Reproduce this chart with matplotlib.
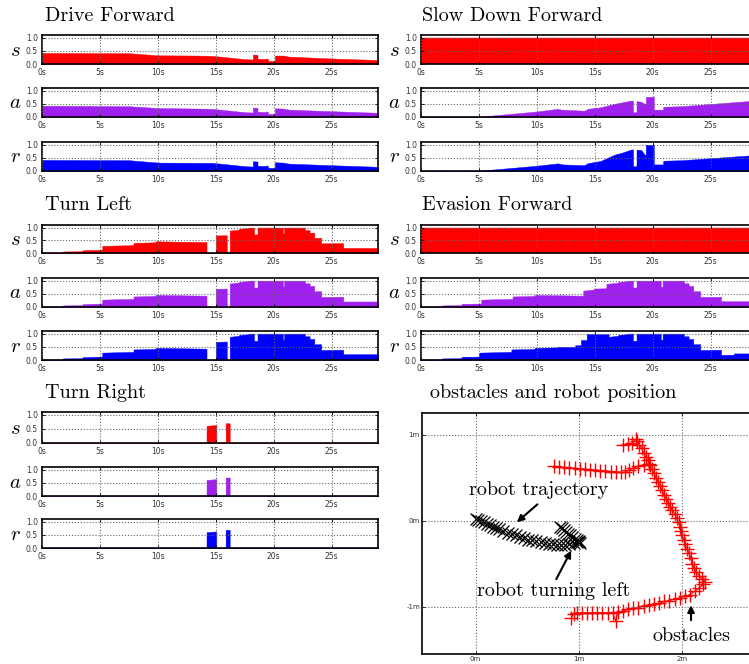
import numpy as np
import matplotlib.pyplot as plt

plt.rcParams['mathtext.fontset'] = 'cm'

# ---- data (time in s, activation values) ----
# Drive Forward
df_s_t = [0, 7.5, 10, 13.5, 14.7, 17.6, 18.2, 18.2, 18.6, 18.6, 19.3, 19.3, 19.5, 19.5, 20.0, 20.1, 20.1, 20.8, 21.3, 25, 29]
df_s_v = [0.42, 0.41, 0.33, 0.32, 0.31, 0.18, 0.17, 0.36, 0.35, 0.20, 0.19, 0.21, 0.20, 0.12, 0.12, 0.12, 0.32, 0.32, 0.28, 0.21, 0.15]
df_a_t = [0, 7.5, 10, 13.5, 14.7, 17.6, 18.2, 18.2, 18.6, 18.6, 19.3, 19.3, 19.5, 19.5, 20.0, 20.1, 20.1, 20.8, 21.3, 25, 29]
df_a_v = [0.43, 0.41, 0.34, 0.32, 0.31, 0.18, 0.17, 0.36, 0.35, 0.20, 0.19, 0.21, 0.20, 0.12, 0.12, 0.12, 0.33, 0.32, 0.28, 0.22, 0.16]
df_r_t = [0, 7.5, 10, 13.5, 14.7, 17.6, 18.2, 18.2, 18.6, 18.6, 19.3, 19.3, 19.5, 19.5, 20.0, 20.1, 20.1, 20.8, 21.3, 25, 29]
df_r_v = [0.42, 0.41, 0.32, 0.31, 0.31, 0.18, 0.17, 0.37, 0.36, 0.20, 0.19, 0.21, 0.20, 0.12, 0.12, 0.12, 0.33, 0.32, 0.28, 0.22, 0.16]

# Slow Down Forward
sd_s_t = [0, 29]
sd_s_v = [1.0, 1.0]
sd_a_t = [0, 5, 10, 11.8, 12.1, 14.1, 14.4, 15.5, 16.7, 18.1, 18.3, 18.3, 18.6, 18.6, 19.0, 19.3, 19.4, 19.4, 20.1, 20.1, 20.9, 20.9, 22.5, 29]
sd_a_v = [0.005, 0.01, 0.21, 0.31, 0.28, 0.24, 0.31, 0.37, 0.50, 0.62, 0.62, 0.18, 0.18, 0.60, 0.58, 0.50, 0.50, 0.76, 0.77, 0.28, 0.28, 0.39, 0.41, 0.63]
sd_r_t = [0, 5, 10, 11.8, 12.2, 14.1, 14.4, 15.5, 16.7, 17.3, 18.1, 18.3, 18.3, 18.6, 18.6, 19.0, 19.3, 19.4, 19.4, 20.1, 20.1, 20.9, 20.9, 22.5, 29]
sd_r_v = [0.005, 0.01, 0.20, 0.29, 0.25, 0.22, 0.30, 0.38, 0.62, 0.69, 0.81, 0.82, 0.18, 0.18, 0.81, 0.80, 0.62, 0.62, 1.0, 0.99, 0.25, 0.25, 0.39, 0.41, 0.61]

# Turn Left
tl_t = [0, 1.8, 1.8, 3.5, 3.5, 5.2, 5.2, 7.9, 7.9, 9.8, 9.8, 14.2, 14.2, 15.0, 15.0, 15.95, 15.95, 16.2, 16.2, 17.0,
        17.0, 17.8, 17.8, 18.3, 18.3, 18.6, 18.6, 20.8, 20.8, 20.9, 20.9, 22.7, 22.7, 23.1, 23.1, 23.5, 23.5, 24.1,
        24.1, 26.0, 26.0, 29]
tl_s_v = [0.02, 0.02, 0.06, 0.07, 0.11, 0.13, 0.28, 0.31, 0.40, 0.42, 0.46, 0.43, 0, 0, 0.69, 0.70, 0, 0, 0.88, 0.92,
          0.95, 0.98, 1.0, 1.0, 0.73, 0.73, 1.0, 1.0, 0.78, 0.78, 1.0, 1.0, 0.9, 0.9, 0.8, 0.8, 0.6, 0.6,
          0.38, 0.39, 0.2, 0.2]
tl_a_v = [0.02, 0.02, 0.06, 0.07, 0.11, 0.13, 0.28, 0.31, 0.40, 0.42, 0.46, 0.43, 0, 0, 0.69, 0.70, 0, 0, 0.89, 0.93,
          0.95, 0.99, 1.0, 1.0, 0.74, 0.74, 1.0, 1.0, 0.78, 0.78, 1.0, 1.0, 0.9, 0.9, 0.8, 0.8, 0.6, 0.6,
          0.38, 0.39, 0.21, 0.21]
tl_r_v = [0.02, 0.02, 0.06, 0.07, 0.11, 0.13, 0.28, 0.31, 0.40, 0.42, 0.46, 0.43, 0, 0, 0.69, 0.70, 0, 0, 0.88, 0.92,
          0.95, 0.98, 1.0, 1.0, 0.73, 0.73, 1.0, 1.0, 0.77, 0.77, 1.0, 1.0, 0.9, 0.9, 0.8, 0.8, 0.6, 0.6,
          0.38, 0.39, 0.22, 0.22]

# Evasion Forward
ev_s_t = [0, 29]
ev_s_v = [1.0, 1.0]
ev_a_t = [0, 1.8, 1.8, 3.5, 3.5, 5.2, 5.2, 7.9, 7.9, 9.8, 9.8, 14.0, 14.0, 14.9, 14.9, 16.0, 16.0, 17.0, 17.0, 17.8,
          17.8, 18.3, 18.3, 18.6, 18.6, 20.7, 20.7, 20.85, 20.85, 22.7, 22.7, 23.1, 23.1, 23.5, 23.5, 24.1, 24.1,
          25.9, 25.9, 29]
ev_a_v = [0.02, 0.02, 0.06, 0.07, 0.12, 0.13, 0.28, 0.31, 0.40, 0.42, 0.46, 0.43, 0.62, 0.66, 0.70, 0.71, 0.88, 0.92,
          0.95, 0.98, 1.0, 1.0, 0.74, 0.74, 1.0, 1.0, 0.77, 0.77, 1.0, 1.0, 0.9, 0.9, 0.8, 0.8, 0.6, 0.6, 0.38,
          0.39, 0.22, 0.22]
ev_r_t = [0, 1.8, 1.8, 3.5, 3.5, 5.0, 5.0, 7.8, 7.8, 9.8, 9.8, 11.8, 11.8, 13.3, 13.3, 13.8, 13.8, 14.3, 14.3, 16.2,
          16.2, 17.0, 17.0, 17.8, 17.8, 18.3, 18.3, 18.6, 18.6, 20.7, 20.7, 20.85, 20.85, 22.7, 22.7, 23.1, 23.1,
          23.5, 23.5, 24.1, 24.1, 25.9, 25.9, 27.0, 27.0, 29]
ev_r_v = [0.02, 0.02, 0.06, 0.07, 0.12, 0.13, 0.28, 0.31, 0.40, 0.42, 0.46, 0.48, 0.50, 0.50, 0.56, 0.56, 0.76, 0.76,
          0.99, 0.98, 0.88, 0.92, 0.95, 0.98, 1.0, 1.0, 0.73, 0.73, 1.0, 1.0, 0.77, 0.77, 1.0, 1.0, 0.9, 0.9,
          0.8, 0.8, 0.6, 0.6, 0.38, 0.39, 0.2, 0.2, 0.25, 0.25]

# Turn Right
tr_t = [0, 14.2, 14.2, 15.05, 15.05, 15.85, 15.85, 16.2, 16.2, 29]
tr_s_v = [0, 0, 0.61, 0.64, 0, 0, 0.70, 0.70, 0, 0]
tr_a_v = [0, 0, 0.61, 0.64, 0, 0, 0.70, 0.70, 0, 0]
tr_r_v = [0, 0, 0.60, 0.63, 0, 0, 0.69, 0.69, 0, 0]

# robot trajectory (m)
traj_x = [0.0, 0.02, 0.05, 0.08, 0.11, 0.14, 0.17, 0.20, 0.23, 0.27, 0.31, 0.35, 0.39, 0.43, 0.47, 0.51, 0.55,
          0.59, 0.63, 0.67, 0.71, 0.75, 0.79, 0.83, 0.87, 0.91, 0.95, 0.98, 1.00,
          0.82, 0.84, 0.86, 0.88, 0.90, 0.92, 0.94, 0.96, 0.98, 1.00, 1.01]
traj_y = [0.02, 0.01, 0.0, -0.02, -0.04, -0.05, -0.07, -0.09, -0.10, -0.12, -0.14, -0.16, -0.17, -0.19, -0.20,
          -0.22, -0.23, -0.24, -0.25, -0.26, -0.27, -0.27, -0.28, -0.28, -0.28, -0.27, -0.26, -0.25, -0.24,
          -0.07, -0.09, -0.11, -0.13, -0.15, -0.17, -0.19, -0.21, -0.23, -0.25, -0.26]

# obstacles (m), three scan pieces
obs1_x = [0.76, 0.81, 0.86, 0.91, 0.96, 1.01, 1.06, 1.11, 1.16, 1.21, 1.26, 1.31, 1.36, 1.41, 1.45, 1.49, 1.53,
          1.58, 1.63, 1.68]
obs1_y = [0.63, 0.62, 0.62, 0.61, 0.61, 0.60, 0.60, 0.59, 0.59, 0.58, 0.58, 0.57, 0.57, 0.56, 0.56, 0.59, 0.61,
          0.63, 0.65, 0.66]
obs2_x = [1.43, 1.48, 1.52, 1.56, 1.57, 1.59, 1.61, 1.63, 1.65, 1.67, 1.69, 1.71, 1.73, 1.75, 1.77, 1.79, 1.81,
          1.83, 1.85, 1.87, 1.89, 1.91, 1.93, 1.95, 1.97, 1.98, 1.99, 2.00, 2.02, 2.03, 2.05, 2.07, 2.09, 2.10,
          2.12, 2.14, 2.17, 2.20, 2.23]
obs2_y = [0.88, 0.89, 0.90, 0.95, 0.92, 0.88, 0.84, 0.79, 0.74, 0.70, 0.65, 0.60, 0.55, 0.50, 0.45, 0.40, 0.35,
          0.30, 0.25, 0.20, 0.16, 0.12, 0.08, 0.03, -0.02, -0.07, -0.12, -0.17, -0.22, -0.27, -0.33, -0.38,
          -0.44, -0.50, -0.55, -0.60, -0.64, -0.68, -0.71]
obs3_x = [2.21, 2.17, 2.13, 2.08, 2.03, 1.98, 1.93, 1.88, 1.83, 1.78, 1.73, 1.68, 1.63, 1.58, 1.53, 1.48, 1.43,
          1.38, 1.36, 1.33, 1.28, 1.23, 1.18, 1.13, 1.08, 1.03, 0.98, 0.95, 0.93]
obs3_y = [-0.74, -0.78, -0.82, -0.86, -0.88, -0.90, -0.91, -0.93, -0.94, -0.96, -0.97, -0.98, -0.99, -1.01,
          -1.02, -1.03, -1.05, -1.06, -1.17, -1.07, -1.07, -1.07, -1.07, -1.07, -1.07, -1.07, -1.07, -1.08, -1.13]

panels = [
    ('Drive Forward', [(df_s_t, df_s_v), (df_a_t, df_a_v), (df_r_t, df_r_v)]),
    ('Slow Down Forward', [(sd_s_t, sd_s_v), (sd_a_t, sd_a_v), (sd_r_t, sd_r_v)]),
    ('Turn Left', [(tl_t, tl_s_v), (tl_t, tl_a_v), (tl_t, tl_r_v)]),
    ('Evasion Forward', [(ev_s_t, ev_s_v), (ev_a_t, ev_a_v), (ev_r_t, ev_r_v)]),
    ('Turn Right', [(tr_t, tr_s_v), (tr_t, tr_a_v), (tr_t, tr_r_v)]),
]
row_labels = ['$s$', '$a$', '$r$']
colors = ['#ff0000', '#a020f0', '#0000ff']

W, H = 749, 664
fig = plt.figure(figsize=(W / 100, H / 100), dpi=100)

col_x = [42, 421]
axw = 336
rows_px = [[(35, 64), (88, 117), (142, 171)],
           [(225, 253), (278, 307), (331, 360)],
           [(412, 443), (467, 496), (519, 548)]]
title_y = [16, 205, 393]
title_x = [45, 422]
tick_col = '#333333'
tfs = 14.5


def style(ax, pad=3, size=5.5):
    ax.tick_params(direction='in', top=True, right=True, labelsize=size, length=2.5,
                   width=0.6, colors='black', labelcolor=tick_col, pad=pad)
    for sp in ax.spines.values():
        sp.set_linewidth(1.2)
    ax.grid(True, color='#666666', linestyle=':', linewidth=0.8)
    ax.set_axisbelow(False)


for i, (title, series) in enumerate(panels):
    g, c = i // 2, i % 2
    fig.text(title_x[c] / W, 1 - title_y[g] / H, title, family='cmr10', fontsize=tfs,
             ha='left', va='center')
    for k, (t, v) in enumerate(series):
        top, bot = rows_px[g][k]
        ax = fig.add_axes([col_x[c] / W, 1 - bot / H, axw / W, (bot - top) / H])
        ax.fill_between(t, 0, v, color=colors[k], linewidth=0.3, edgecolor=colors[k], zorder=1)
        ax.set_xlim(0, 29)
        ax.set_ylim(0, 1.1)
        ax.set_xticks([0, 5, 10, 15, 20, 25])
        ax.set_xticklabels(['0s', '5s', '10s', '15s', '20s', '25s'])
        ax.set_yticks([0, 0.5, 1.0])
        ax.set_yticklabels(['0.0', '0.5', '1.0'])
        style(ax)
        ax.text(-0.08, 0.5, row_labels[k], transform=ax.transAxes, fontsize=15,
                ha='center', va='center')

# obstacles and robot position
fig.text(430 / W, 1 - 393 / H, 'obstacles and robot position', family='cmr10', fontsize=tfs,
         ha='left', va='center')
axp = fig.add_axes([422 / W, 1 - 654 / H, axw / W, (654 - 413) / H])
for ox, oy in [(obs1_x, obs1_y), (obs2_x, obs2_y), (obs3_x, obs3_y)]:
    axp.plot(ox, oy, '-', color='red', lw=0.8, marker='+', ms=10, mew=1.0)
axp.plot(traj_x, traj_y, 'x', color='black', ms=9, mew=0.9)
axp.set_xlim(-0.52, 2.74)
axp.set_ylim(-1.55, 1.25)
axp.set_xticks([0, 1, 2])
axp.set_xticklabels(['0m', '1m', '2m'])
axp.set_yticks([-1, 0, 1])
axp.set_yticklabels(['-1m', '0m', '1m'])
style(axp, pad=1.5, size=5)

akw = dict(arrowstyle='-|>', color='black', lw=1.5, mutation_scale=10)
axp.text(0.61, 0.36, 'robot trajectory', family='cmr10', fontsize=tfs, ha='center', va='center')
axp.annotate('', xy=(0.38, -0.04), xytext=(0.62, 0.21), arrowprops=akw)
axp.text(0.76, -0.82, 'robot turning left', family='cmr10', fontsize=tfs, ha='center', va='center')
axp.annotate('', xy=(0.94, -0.32), xytext=(0.77, -0.71), arrowprops=akw)
axp.text(2.09, -1.34, 'obstacles', family='cmr10', fontsize=tfs, ha='center', va='center')
axp.annotate('', xy=(2.09, -0.95), xytext=(2.09, -1.19), arrowprops=akw)

fig.savefig('out.png', dpi=100)
